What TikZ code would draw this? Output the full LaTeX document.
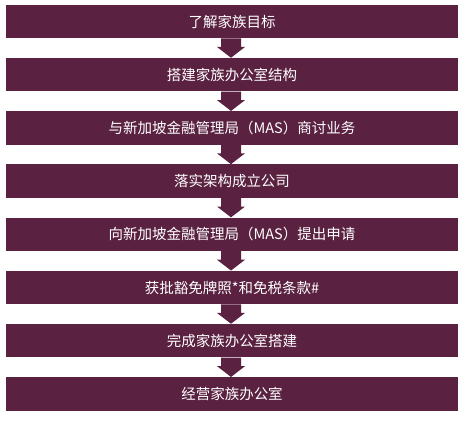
\documentclass[tikz,border=0pt]{standalone}
\usepackage{fontspec}
\setmainfont{Noto Sans CJK SC}
\usetikzlibrary{calc}
\definecolor{plum}{HTML}{5A2141}
\tikzset{
  stepbox/.style={fill=plum, text=white, minimum width=452pt, minimum height=33.5pt,
    inner sep=0pt, font=\fontsize{14.5pt}{16pt}\selectfont, anchor=center},
  arr/.style={fill=plum, draw=none}
}
\newcommand{\flowarrow}[2]{%
  \fill[arr] ($(#1.south)+(-11pt,0)$) -- ($(#1.south)+(9pt,0)$) -- ($(#1.south)+(9pt,-8.5pt)$)
    -- ($(#1.south)+(13pt,-8.5pt)$) -- ($(#2.north)+(-1pt,0)$) -- ($(#1.south)+(-15pt,-8.5pt)$)
    -- ($(#1.south)+(-11pt,-8.5pt)$) -- cycle;}
\begin{document}
\begin{tikzpicture}[x=1pt,y=1pt]
\useasboundingbox[fill=white] (0,0) rectangle (464,421);
\node[stepbox] (b1) at (232,{421-21.5}) {了解家族目标};
\node[stepbox] (b2) at (232,{421-21.5-53.2}) {搭建家族办公室结构};
\node[stepbox] (b3) at (232,{421-21.5-2*53.2}) {与新加坡金融管理局（MAS）商讨业务};
\node[stepbox] (b4) at (232,{421-21.5-3*53.2}) {落实架构成立公司};
\node[stepbox] (b5) at (232,{421-21.5-4*53.2}) {向新加坡金融管理局（MAS）提出申请};
\node[stepbox] (b6) at (232,{421-21.5-5*53.2}) {获批豁免牌照*和免税条款\#};
\node[stepbox] (b7) at (232,{421-21.5-6*53.2}) {完成家族办公室搭建};
\node[stepbox] (b8) at (232,{421-21.5-7*53.2}) {经营家族办公室};
\flowarrow{b1}{b2}
\flowarrow{b2}{b3}
\flowarrow{b3}{b4}
\flowarrow{b4}{b5}
\flowarrow{b5}{b6}
\flowarrow{b6}{b7}
\flowarrow{b7}{b8}
\end{tikzpicture}
\end{document}
